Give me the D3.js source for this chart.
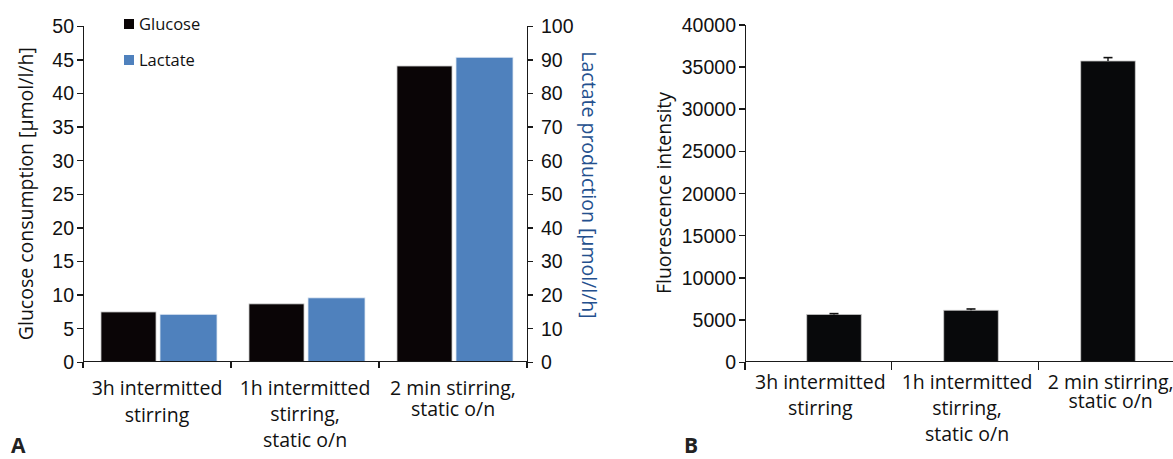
<!DOCTYPE html>
<html>
<head>
<meta charset="utf-8">
<script src="https://cdn.jsdelivr.net/npm/d3@7"></script>
<style>
  html, body { margin: 0; padding: 0; background: #fff; }
  svg { display: block; font-family: "Open Sans", "DejaVu Sans", sans-serif; }
  .axis path, .axis line { stroke: #1a1a1a; stroke-width: 1.4px; shape-rendering: crispEdges; }
  .axis text { font-size: 19.5px; fill: #111; }
</style>
</head>
<body>
<svg id="chart" width="1173" height="459"></svg>
<script>
// Categories shared by both panels (line breaks as printed under the axis)
const categories = ["3h intermitted stirring", "1h intermitted stirring, static o/n", "2 min stirring, static o/n"];
const categoryLines = [
  ["3h intermitted", "stirring"],
  ["1h intermitted", "stirring,", "static o/n"],
  ["2 min stirring,", "static o/n"]
];

// Panel A: glucose consumption (left axis) and lactate production (right axis), µmol/l/h
const glucose = [7.4, 8.6, 44.0];
const lactate = [14.1, 19.0, 90.6];
const glucoseTicks = [0, 5, 10, 15, 20, 25, 30, 35, 40, 45, 50];
const lactateTicks = [0, 10, 20, 30, 40, 50, 60, 70, 80, 90, 100];

// Panel B: fluorescence intensity with error
const fluorescence = [5600, 6100, 35650];
const fluorescenceErr = [100, 150, 400];
const fluorescenceTicks = [0, 5000, 10000, 15000, 20000, 25000, 30000, 35000, 40000];

const svg = d3.select("#chart");
const black = "#0a0506";
const blue = "#4f81bd";
const blueText = "#24508e";
const labelSize = 19.5;

// ---------- Panel A ----------
const A = { left: 83, right: 527, top: 25.7, bottom: 361.7 };
const xA = d3.scaleBand().domain(categories).range([A.left, A.right]);
const yG = d3.scaleLinear().domain([0, 50]).range([A.bottom, A.top]);
const yL = d3.scaleLinear().domain([0, 100]).range([A.bottom, A.top]);

const gA = svg.append("g");

// bars
const barW = 55, barGap = 4, barOffset = 18;
gA.selectAll("rect.glu").data(categories).join("rect")
  .attr("class", "glu")
  .attr("x", d => xA(d) + barOffset)
  .attr("width", barW)
  .attr("y", (d, i) => yG(glucose[i]))
  .attr("height", (d, i) => yG(0) - yG(glucose[i]))
  .attr("fill", black)
  .attr("stroke", "#c8c8c8").attr("stroke-width", 0.8);

gA.selectAll("rect.lac").data(categories).join("rect")
  .attr("class", "lac")
  .attr("x", d => xA(d) + barOffset + barW + barGap)
  .attr("width", barW + 2)
  .attr("y", (d, i) => yL(lactate[i]))
  .attr("height", (d, i) => yL(0) - yL(lactate[i]))
  .attr("fill", blue)
  .attr("stroke", "#dfe8f3").attr("stroke-width", 0.8);

// left axis
gA.append("g").attr("class", "axis")
  .attr("transform", `translate(${A.left},0)`)
  .call(d3.axisLeft(yG).tickValues(glucoseTicks).tickSize(6).tickSizeOuter(0).tickPadding(3))
  .call(g => g.selectAll("text").attr("dy", "0.36em"));

// right axis
gA.append("g").attr("class", "axis")
  .attr("transform", `translate(${A.right},0)`)
  .call(d3.axisRight(yL).tickValues(lactateTicks).tickSize(6).tickSizeOuter(0).tickPadding(8))
  .call(g => g.selectAll("text").attr("fill", blueText).attr("dy", "0.36em"));

// x axis with ticks at category boundaries
const xAxisA = gA.append("g").attr("class", "axis").attr("transform", `translate(0,${A.bottom})`);
xAxisA.append("line").attr("x1", A.left).attr("x2", A.right).attr("y1", 0).attr("y2", 0);
xAxisA.selectAll("line.tk").data(categories.concat(["end"])).join("line")
  .attr("class", "tk")
  .attr("x1", (d, i) => i < categories.length ? xA(d) : A.right)
  .attr("x2", (d, i) => i < categories.length ? xA(d) : A.right)
  .attr("y1", 0).attr("y2", 6);

// category labels
const lineStepA = [27, 26, 21];
categories.forEach((c, i) => {
  const t = gA.append("text")
    .attr("x", xA(c) + xA.bandwidth() / 2)
    .attr("y", 395)
    .attr("text-anchor", "middle")
    .attr("font-size", labelSize).attr("fill", "#111");
  categoryLines[i].forEach((ln, j) => {
    t.append("tspan").attr("x", xA(c) + xA.bandwidth() / 2)
      .attr("dy", j === 0 ? 0 : lineStepA[i]).text(ln);
  });
});

// axis titles
gA.append("text")
  .attr("transform", `translate(26,${(A.top + A.bottom) / 2}) rotate(-90)`)
  .attr("text-anchor", "middle").attr("dy", "0.35em")
  .attr("font-size", labelSize).attr("fill", "#111")
  .text("Glucose consumption [µmol/l/h]");

gA.append("text")
  .attr("transform", `translate(589,185) rotate(90)`)
  .attr("text-anchor", "middle").attr("dy", "0.35em")
  .attr("font-size", labelSize).attr("fill", blueText)
  .text("Lactate production [µmol/l/h]");

// legend
const legend = [{ name: "Glucose", color: black }, { name: "Lactate", color: blue }];
legend.forEach((l, i) => {
  gA.append("rect").attr("x", 124).attr("y", 19 + i * 36).attr("width", 10).attr("height", 10)
    .attr("fill", l.color);
  gA.append("text").attr("x", 139).attr("y", 24 + i * 36).attr("dy", "0.35em")
    .attr("font-size", 16.5).attr("fill", "#111").text(l.name);
});

// panel letter
svg.append("text").attr("x", 11).attr("y", 453).attr("font-size", 21).attr("font-weight", "bold")
  .attr("fill", "#222").text("A");

// ---------- Panel B ----------
const B = { left: 745, right: 1185, top: 24.3, bottom: 361.7 };
const xB = d3.scaleBand().domain(categories).range([B.left, B.right]);
// bar placement scale (bars sit on a slightly tighter pitch than the axis bands)
const xBar = d3.scaleBand().domain(categories).range([765.5, 1176.5]);
const yB = d3.scaleLinear().domain([0, 40000]).range([B.bottom, B.top]);
const gB = svg.append("g");

const barWB = 54.5;
gB.selectAll("rect.fl").data(categories).join("rect")
  .attr("class", "fl")
  .attr("x", d => xBar(d) + (xBar.bandwidth() - barWB) / 2)
  .attr("width", barWB)
  .attr("y", (d, i) => yB(fluorescence[i]))
  .attr("height", (d, i) => yB(0) - yB(fluorescence[i]))
  .attr("fill", "#08090b")
  .attr("stroke", "#c8c8c8").attr("stroke-width", 0.8);

// error bars
const capW = 9;
gB.selectAll("g.err").data(categories).join("g").attr("class", "err")
  .each(function (d, i) {
    const cx = xBar(d) + xBar.bandwidth() / 2;
    const top = yB(fluorescence[i] + fluorescenceErr[i]);
    const g = d3.select(this);
    g.append("line").attr("x1", cx).attr("x2", cx)
      .attr("y1", yB(fluorescence[i])).attr("y2", top)
      .attr("stroke", "#111").attr("stroke-width", 1.4);
    g.append("line").attr("x1", cx - capW / 2).attr("x2", cx + capW / 2)
      .attr("y1", top).attr("y2", top)
      .attr("stroke", "#111").attr("stroke-width", 1.6);
  });

gB.append("g").attr("class", "axis")
  .attr("transform", `translate(${B.left},0)`)
  .call(d3.axisLeft(yB).tickValues(fluorescenceTicks).tickFormat(d3.format("d"))
    .tickSize(6).tickSizeOuter(0).tickPadding(3))
  .call(g => g.selectAll("text").attr("dy", "0.36em"));

const xAxisB = gB.append("g").attr("class", "axis").attr("transform", `translate(0,${B.bottom})`);
xAxisB.append("line").attr("x1", B.left).attr("x2", B.right).attr("y1", 0).attr("y2", 0);
xAxisB.selectAll("line.tk").data(categories).join("line")
  .attr("class", "tk")
  .attr("x1", d => xB(d)).attr("x2", d => xB(d))
  .attr("y1", 0).attr("y2", 8);

const lineStepB = [26, 26, 19];
categories.forEach((c, i) => {
  const cx = xB(c) + xB.bandwidth() / 2 + (i === 2 ? -1 : 2);
  const t = gB.append("text")
    .attr("x", cx).attr("y", 389)
    .attr("text-anchor", "middle")
    .attr("font-size", labelSize).attr("fill", "#111");
  categoryLines[i].forEach((ln, j) => {
    t.append("tspan").attr("x", cx).attr("dy", j === 0 ? 0 : lineStepB[i]).text(ln);
  });
});

gB.append("text")
  .attr("transform", `translate(664,${(B.top + B.bottom) / 2}) rotate(-90)`)
  .attr("text-anchor", "middle").attr("dy", "0.35em")
  .attr("font-size", labelSize).attr("fill", "#111")
  .text("Fluorescence intensity");

svg.append("text").attr("x", 684).attr("y", 453).attr("font-size", 21).attr("font-weight", "bold")
  .attr("fill", "#222").text("B");
</script>
</body>
</html>
